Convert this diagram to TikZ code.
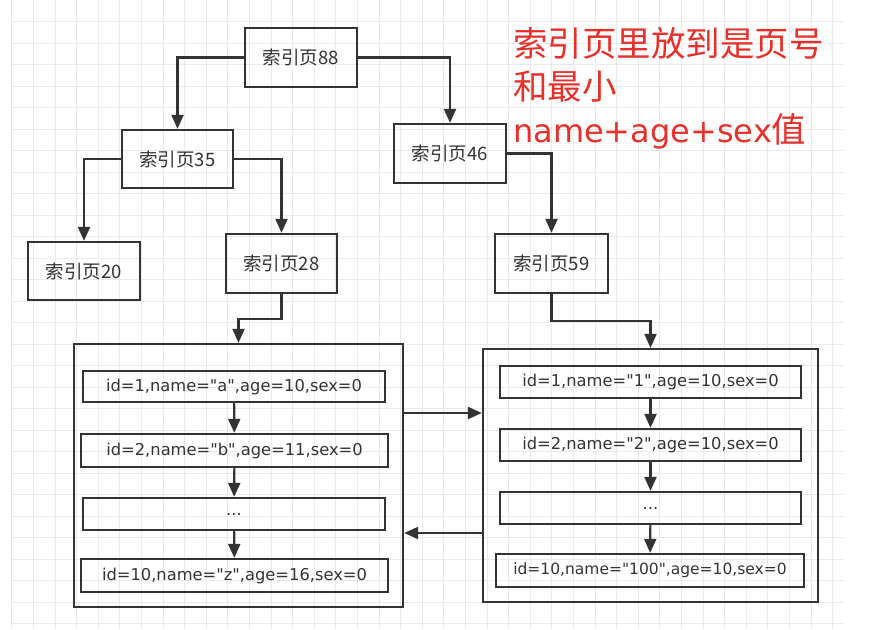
\documentclass[tikz,border=0pt]{standalone}
\usepackage{fontspec}
\setmainfont{Noto Sans CJK SC}[Ligatures=TeXOff]
\newfontfamily\recfont{DejaVu Sans}[Ligatures=TeXOff]
\usetikzlibrary{arrows.meta,calc}
\definecolor{ln}{HTML}{333333}
\definecolor{gridc}{HTML}{EAEAEA}
\definecolor{redt}{HTML}{E8302A}
\begin{document}
\begin{tikzpicture}[x=1pt,y=-1pt,
  box/.style={draw=ln,line width=2.3pt,rectangle,inner sep=0pt,text=ln,font=\fontsize{18.5}{22}\selectfont},
  rec/.style={draw=ln,line width=2.3pt,rectangle,inner sep=0pt,text=ln,font=\recfont\fontsize{16.3}{20}\selectfont},
  cont/.style={draw=ln,line width=2.3pt,rectangle,inner sep=0pt},
  arr/.style={draw=ln,line width=2.2pt,-{Triangle[length=14pt,width=12pt]}},
  redtxt/.style={text=redt,font=\fontsize{34.5}{40}\selectfont,anchor=base west,inner sep=0pt}]
\useasboundingbox (0,0) rectangle (891,629);
\fill[white] (0,0) rectangle (891,629);
% grid
\foreach \i in {0,...,38} {\draw[gridc,line width=0.7pt] ({11.7+21.6*\i},0) -- ({11.7+21.6*\i},629);}
\foreach \j in {1,...,29} {\draw[gridc,line width=0.7pt] (11.7,{0.2+21.5*\j}) -- (844,{0.2+21.5*\j});}
% index pages
\node[box,minimum width=112pt,minimum height=59pt] (p88) at (301,57.5) {索引页88};
\node[box,minimum width=111pt,minimum height=58pt] (p35) at (177.5,159) {索引页35};
\node[box,minimum width=112pt,minimum height=58pt] (p20) at (84,271) {索引页20};
\node[box,minimum width=111pt,minimum height=59pt] (p28) at (281.5,263.5) {索引页28};
\node[box,minimum width=112pt,minimum height=59pt] (p46) at (450,153.5) {索引页46};
\node[box,minimum width=113pt,minimum height=59pt] (p59) at (551.5,263.5) {索引页59};
% data pages
\node[cont,minimum width=329pt,minimum height=263pt] (L) at (238.5,475.5) {};
\node[cont,minimum width=335pt,minimum height=253pt] (R) at (650.5,475.5) {};
\node[rec,minimum width=302pt,minimum height=31pt] (l1) at (234,386.5) {id=1,name="a",age=10,sex=0};
\node[rec,minimum width=307pt,minimum height=33pt] (l2) at (234.5,450.5) {id=2,name="b",age=11,sex=0};
\node[rec,minimum width=302pt,minimum height=32pt] (l3) at (234,514) {...};
\node[rec,minimum width=307pt,minimum height=33pt] (l4) at (234.5,575.5) {id=10,name="z",age=16,sex=0};
\node[rec,minimum width=301pt,minimum height=32pt] (r1) at (650.5,382) {id=1,name="1",age=10,sex=0};
\node[rec,minimum width=301pt,minimum height=32pt] (r2) at (650.5,445) {id=2,name="2",age=10,sex=0};
\node[rec,minimum width=301pt,minimum height=32pt] (r3) at (650.5,508) {...};
\node[rec,minimum width=308pt,minimum height=33pt,font=\recfont\fontsize{15.5}{20}\selectfont] (r4) at (650,570.5) {id=10,name="100",age=10,sex=0};
% tree arrows
\draw[arr] (p88.west) -| (p35.north);
\draw[arr] (p88.east) -| (p46.north);
\draw[arr] (p35.west) -| (p20.north);
\draw[arr] (p35.east) -| (p28.north);
\draw[arr] (p46.east) -| (p59.north);
\draw[arr] (p28.south) -- ++(0,25) -| (L.north);
\draw[arr] (p59.south) -- ++(0,27) -| (R.north);
% record arrows
\draw[arr] (l1) -- (l2);
\draw[arr] (l2) -- (l3);
\draw[arr] (l3) -- (l4);
\draw[arr] (r1) -- (r2);
\draw[arr] (r2) -- (r3);
\draw[arr] (r3) -- (r4);
% page links
\draw[arr] ([yshift=62.5pt]L.east) -- ([yshift=62.5pt]R.west);
\draw[arr] ([yshift=-57.5pt]R.west) -- ([yshift=-57.5pt]L.east);
% note
\node[redtxt] (t1) at (513,56) {索引页里放到是页号};
\node[redtxt] (t2) at (513,99) {和最小};
\node[redtxt] (t3) at (513,142) {{\recfont\fontsize{32}{40}\selectfont name+age+sex}值};
\end{tikzpicture}
\end{document}
